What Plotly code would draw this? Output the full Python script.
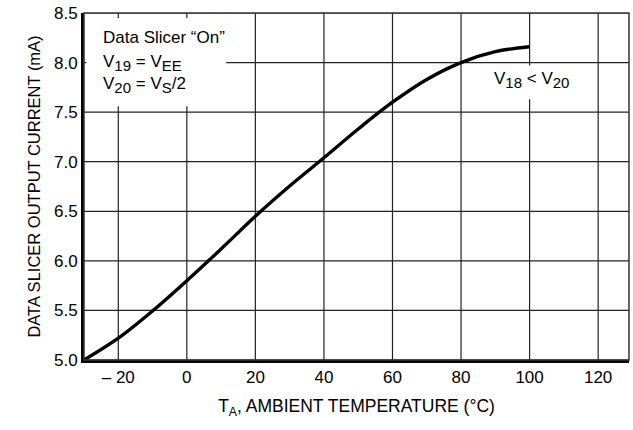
import plotly.graph_objects as go

# Ambient temperature (°C) and data slicer output current (mA)
temp_c = [-30, -20, -10, 0, 10, 20, 30, 40, 50, 60, 70, 80, 90, 100]
current_ma = [5.00, 5.22, 5.495, 5.80, 6.12, 6.45, 6.755, 7.04, 7.33, 7.60, 7.83, 8.00, 8.11, 8.16]

x_ticks = [-20, 0, 20, 40, 60, 80, 100, 120]
x_tick_text = ["– 20", "0", "20", "40", "60", "80", "100", "120"]
y_ticks = [5.0, 5.5, 6.0, 6.5, 7.0, 7.5, 8.0, 8.5]
y_tick_text = ["5.0", "5.5", "6.0", "6.5", "7.0", "7.5", "8.0", "8.5"]

X_RANGE = [-30, 129]
Y_RANGE = [5.0, 8.5]

FONT = "Liberation Sans, Arial, sans-serif"

fig = go.Figure()

# Grid drawn as one line trace following the tick positions
gx, gy = [], []
for t in x_ticks:
    gx += [t, t, None]
    gy += [Y_RANGE[0], Y_RANGE[1], None]
for t in y_ticks:
    gx += [X_RANGE[0], X_RANGE[1], None]
    gy += [t, t, None]
fig.add_trace(go.Scatter(x=gx, y=gy, mode="lines", line=dict(color="#222222", width=1.2),
                         hoverinfo="skip", showlegend=False, connectgaps=False))

# White backing boxes behind the labels (cover the grid, not the curve)
fig.add_trace(go.Scatter(x=[-29.3, 11.5, 11.5, -29.3, -29.3], y=[7.56, 7.56, 8.45, 8.45, 7.56],
                         mode="lines", fill="toself", fillcolor="white",
                         line=dict(width=0, color="white"), hoverinfo="skip", showlegend=False))
fig.add_trace(go.Scatter(x=[89, 114, 114, 89, 89], y=[7.63, 7.63, 7.97, 7.97, 7.63],
                         mode="lines", fill="toself", fillcolor="white",
                         line=dict(width=0, color="white"), hoverinfo="skip", showlegend=False))

fig.add_trace(go.Scatter(
    x=temp_c, y=current_ma, mode="lines",
    line=dict(color="black", width=3.4, shape="spline", smoothing=1.0),
    hoverinfo="skip", showlegend=False,
))

axis_common = dict(
    showgrid=False, zeroline=False, showline=True, linecolor="black", linewidth=3,
    ticks="", tickfont=dict(family=FONT, size=17, color="black"),
)

fig.update_xaxes(
    range=X_RANGE, tickvals=x_ticks, ticktext=x_tick_text,
    title=dict(text="T<sub>A</sub>, AMBIENT TEMPERATURE (°C)",
               font=dict(family=FONT, size=17.5, color="black"), standoff=14),
    **axis_common,
)
fig.update_yaxes(
    range=Y_RANGE, tickvals=y_ticks, ticktext=y_tick_text,
    title=dict(text="DATA SLICER OUTPUT CURRENT (mA)",
               font=dict(family=FONT, size=16.5, color="black"), standoff=10),
    **axis_common,
)

# Thin top/right frame
fig.add_shape(type="rect", xref="paper", yref="paper", x0=0, x1=1, y0=0, y1=1,
              line=dict(color="#333333", width=1.5), fillcolor="rgba(0,0,0,0)",
              layer="above")


def sub(s):
    return f'<sub><span style="font-size:15px">{s}</span></sub>'


label_font = dict(family=FONT, size=17, color="black")
fig.add_annotation(x=-25, y=8.25, xanchor="left", yanchor="middle",
                   text="Data Slicer “On”", showarrow=False, font=label_font)
fig.add_annotation(x=-25, y=8.0, xanchor="left", yanchor="middle",
                   text=f"V{sub('19')} = V{sub('EE')}", showarrow=False, font=label_font)
fig.add_annotation(x=-25, y=7.77, xanchor="left", yanchor="middle",
                   text=f"V{sub('20')} = V{sub('S')}/2", showarrow=False, font=label_font)
fig.add_annotation(x=100.5, y=7.82, xanchor="center", yanchor="middle",
                   text=f"V{sub('18')} &lt; V{sub('20')}", showarrow=False, font=label_font)

fig.update_layout(
    width=633, height=430,
    margin=dict(l=84, r=4, t=10, b=70),
    paper_bgcolor="white", plot_bgcolor="white",
)

fig.write_html("out.html")
